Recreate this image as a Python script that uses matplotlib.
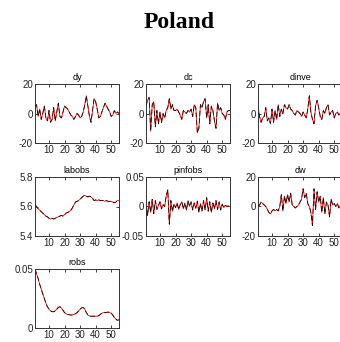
import numpy as np
import matplotlib.pyplot as plt

plt.rcParams['font.family'] = ['Liberation Sans', 'DejaVu Sans']

t = np.arange(1, 56)

dy = [5, 6, -2, 3, -4, 0, 5, -3, -5, 2, -6, -4, 4, -5, 1, 7, -2, -3, 1, 5,
      4, 3, 1, -1, -2, -4, -2, 0, -1, -3, -2, 1, 6, 12, 5, -2, -6, 2, 10, 8,
      3, -3, -2, 1, 4, 7, 5, 3, 1, -2, -1, 2, 0, 1, 0]
dc = [5, 9, 11, -12, 6, 8, -9, 2, -7, 1, -6, 0, -3, 2, 4, 10, 3, 6, 2, 2,
      3, 1, -1, -4, 2, 1, 0, 2, 1, 3, -2, 6, 4, -13, -10, 6, 4, 8, 10, -3,
      6, -7, 5, 2, -5, -10, 7, 2, 4, 0, -1, -4, 1, 2, 2]
dinve = [5, -2, -6, -3, -2, 4, -5, -3, -7, 3, -6, 2, -4, 6, -2, 3, 0, 6, 4, 3,
         6, 3, 2, 0, -1, 2, 1, 0, -2, 1, -1, -3, 3, 12, 1, -4, -7, 5, 9, 4,
         -2, -4, 2, 0, 4, 6, -1, 1, 2, -3, 0, 1, -1, 0, 0]
labobs = [5.61, 5.60, 5.585, 5.575, 5.565, 5.555, 5.545, 5.535, 5.53, 5.52,
          5.515, 5.52, 5.515, 5.52, 5.525, 5.53, 5.535, 5.54, 5.535, 5.545,
          5.555, 5.56, 5.565, 5.575, 5.59, 5.61, 5.63, 5.635, 5.64, 5.65,
          5.66, 5.67, 5.675, 5.67, 5.665, 5.67, 5.665, 5.655, 5.64, 5.645,
          5.64, 5.645, 5.64, 5.64, 5.64, 5.635, 5.64, 5.635, 5.635, 5.635,
          5.63, 5.625, 5.63, 5.64, 5.64]
pinfobs = [0.005, -0.015, 0.008, -0.01, 0.012, -0.012, 0.01, -0.005, 0.002, 0.008,
           -0.004, 0.003, 0.0, 0.018, 0.028, -0.03, 0.01, -0.008, 0.004, -0.002,
           0.006, -0.005, 0.003, 0.008, -0.004, 0.006, -0.006, 0.01, 0.0, 0.008,
           -0.006, 0.006, -0.003, 0.009, -0.01, 0.005, -0.008, 0.01, -0.006, 0.015,
           -0.008, 0.008, -0.01, 0.006, -0.004, 0.01, -0.005, 0.008, -0.006, 0.004,
           -0.002, 0.002, 0.0, 0.001, 0.0]
dw = [0, 1, 3, 2, 1, 0, -2, -4, -5, -3, -2, -3, -2, -3, 0, 8, -3, 7, 2, 8,
      3, 9, 1, 0, -1, 0, 1, 3, 5, 12, 6, 9, 2, 0, -4, -13, 12, -2, 10, 3,
      7, -4, 6, -5, 3, 1, -7, 5, 1, 2, 0, 2, -1, 1, 0]
robs = [0.05, 0.046, 0.042, 0.037, 0.033, 0.029, 0.025, 0.021, 0.018, 0.016,
        0.0145, 0.0138, 0.0138, 0.0145, 0.016, 0.0175, 0.018, 0.017, 0.015, 0.013,
        0.012, 0.0115, 0.0112, 0.011, 0.011, 0.0115, 0.012, 0.013, 0.0145, 0.016,
        0.017, 0.0175, 0.016, 0.013, 0.011, 0.0102, 0.01, 0.01, 0.01, 0.01,
        0.01, 0.0105, 0.0115, 0.0125, 0.013, 0.013, 0.0132, 0.0135, 0.0132, 0.0125,
        0.011, 0.009, 0.0075, 0.0065, 0.007]

panels = [
    ('dy', dy, (-20, 20), [-20, 0, 20], ['-20', '0', '20']),
    ('dc', dc, (-20, 20), [-20, 0, 20], ['-20', '0', '20']),
    ('dinve', dinve, (-20, 20), [-20, 0, 20], ['-20', '0', '20']),
    ('labobs', labobs, (5.4, 5.8), [5.4, 5.6, 5.8], ['5.4', '5.6', '5.8']),
    ('pinfobs', pinfobs, (-0.05, 0.05), [-0.05, 0, 0.05], ['-0.05', '0', '0.05']),
    ('dw', dw, (-20, 20), [-20, 0, 20], ['-20', '0', '20']),
    ('robs', robs, (0, 0.05), [0, 0.05], ['0', '0.05']),
]

W, H = 340, 342
fig = plt.figure(figsize=(W / 100, H / 100), dpi=100)

# axes boxes in pixels (left, top)
lefts = [35, 146, 258]
tops = [84, 177, 269]
aw, ah = 84, 59

for i, (name, vals, ylim, yt, ytl) in enumerate(panels):
    r, c = divmod(i, 3)
    ax = fig.add_axes([lefts[c] / W, 1 - (tops[r] + ah) / H, aw / W, ah / H])
    ax.plot(t, vals, color='red', lw=0.6)
    ax.plot(t, vals, color='#111111', lw=0.6, dashes=(6, 3))
    ax.set_xlim(1, 55)
    ax.set_ylim(*ylim)
    ax.set_xticks([10, 20, 30, 40, 50])
    ax.set_yticks(yt)
    ax.set_yticklabels(ytl)
    ax.tick_params(direction='in', length=2.5, width=0.6, labelsize=7,
                   top=True, right=True, pad=1.5, colors='#222222')
    for s in ax.spines.values():
        s.set_linewidth(0.7)
        s.set_color('#333333')
    ax.set_title(name, fontsize=6.5, pad=3)

fig.text(179 / W, 1 - 22 / H, 'Poland', ha='center', va='center',
         fontsize=17, fontweight='bold', family=['Liberation Serif', 'DejaVu Serif'])

fig.savefig('out.png', dpi=100)
